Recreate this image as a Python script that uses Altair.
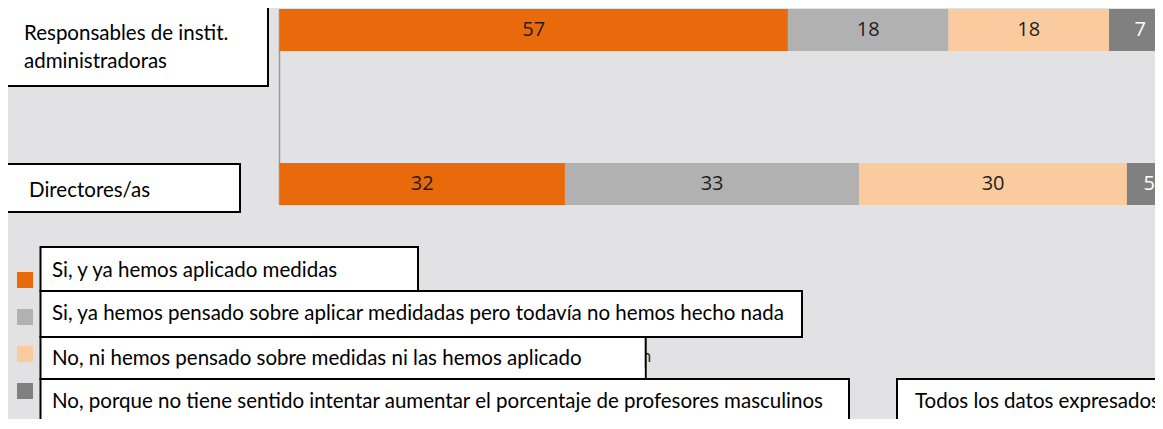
import altair as alt
import pandas as pd

# ---- data -------------------------------------------------------------
groups = ["Responsables de instit. administradoras", "Directores/as"]
responses = [
    "Si, y ya hemos aplicado medidas",
    "Si, ya hemos pensado sobre aplicar medidadas pero todavía no hemos hecho nada",
    "No, ni hemos pensado sobre medidas ni las hemos aplicado",
    "No, porque no tiene sentido intentar aumentar el porcentaje de profesores masculinos",
]
values_responsables = [57, 18, 18, 7]
values_directores = [32, 33, 30, 5]
colors = ["#e86a0a", "#b1b1b1", "#fbcba0", "#808080"]
note_lines = ["Todos los datos expresados en %", "de encuestados"]

rows = []
for g, vals in zip(groups, [values_responsables, values_directores]):
    for i, (r, v) in enumerate(zip(responses, vals)):
        rows.append({"group": g, "response": r, "order": i, "value": v})
df = pd.DataFrame(rows)

# ---- layout helpers (page coordinates -> chart coordinates) -------------
OFF = 8
def px(v):
    return v - OFF

W, H = 1147, 411
BG = "#e2e2e4"
BOX_FONT = "Lato"
BOX_SIZE = 20.5

x_scale = alt.Scale(domain=[0, 100], range=[px(279.5), px(1171.5)])
y_scale = alt.Scale(domain=groups, range=[px(9), px(205)], paddingInner=0.727, paddingOuter=0)

dummy = pd.DataFrame({"d": [0]})

base = alt.Chart(df).transform_stack(
    stack="value", as_=["v0", "v1"], groupby=["group"],
    sort=[alt.SortField("order", order="ascending")],
).transform_calculate(mid="(datum.v0 + datum.v1) / 2")

rule = alt.Chart(dummy).mark_rule(color="#9a9a9a", strokeWidth=1.5).encode(
    x=alt.X(datum=0, scale=x_scale, axis=None),
    y=alt.value(px(9)), y2=alt.value(px(205)),
)

bars = base.mark_bar(strokeWidth=0).encode(
    x=alt.X("v0:Q", scale=x_scale, axis=None),
    x2="v1:Q",
    y=alt.Y("group:N", scale=y_scale, axis=None, sort=groups),
    color=alt.Color(
        "response:N",
        scale=alt.Scale(domain=responses, range=colors),
        legend=alt.Legend(
            orient="none", legendX=px(17), legendY=px(272), direction="vertical",
            symbolType="square", symbolSize=256, symbolStrokeWidth=0, symbolOpacity=1,
            rowPadding=21, padding=0, labelExpr="''", title=None, symbolOffset=0,
            labelOffset=0,
        ),
    ),
)

labels = base.mark_text(font="Open Sans", fontSize=20, baseline="middle").encode(
    x=alt.X("mid:Q", scale=x_scale, axis=None),
    y=alt.Y("group:N", scale=y_scale, axis=None, sort=groups),
    text="value:Q",
    color=alt.condition("datum.order == 3", alt.value("white"), alt.value("#1e1e1e")),
)


def box(x1, y1, x2, y2, stroke=True):
    kw = dict(fill="white", stroke="black", strokeWidth=2) if stroke else dict(fill="white", strokeWidth=0)
    return alt.Chart(dummy).mark_rect(**kw).encode(
        x=alt.value(px(x1)), x2=alt.value(px(x2)),
        y=alt.value(px(y1)), y2=alt.value(px(y2)),
    )


def txt(s, x, y, color="black", font=BOX_FONT, size=BOX_SIZE):
    return alt.Chart(dummy).mark_text(
        text=s, align="left", baseline="alphabetic", font=font, fontSize=size, color=color
    ).encode(x=alt.value(px(x)), y=alt.value(px(y)))


layers = [rule, bars, labels]
# fragment of the original underlying legend text
layers.append(txt("n", 641, 362, color="#222222", font="Open Sans", size=17))
# group labels
layers += [box(3, 7, 268, 86), txt("Responsables de instit.", 24, 40), txt("administradoras", 24, 68)]
layers += [box(7, 164, 240, 212), txt(groups[1], 29, 197)]
# legend label boxes
layers += [box(40.5, 247, 418, 291), txt(responses[0], 52, 277)]
layers += [box(40.5, 291, 802, 337), txt(responses[1], 52, 320)]
layers += [box(40.5, 337, 645.7, 379), txt(responses[2], 52, 365),
           box(42, 368.5, 644.5, 378, stroke=False)]
layers += [box(40.5, 379, 849, 470), txt(responses[3], 52, 408)]
# note box
layers += [box(897, 379, 1200, 470), txt(note_lines[0], 915, 408), txt(note_lines[1], 915, 437)]

chart = alt.layer(*layers).properties(
    width=W, height=H,
    autosize=alt.AutoSizeParams(type="none"),
    padding=0,
    background=BG,
).configure_view(stroke=None)

chart.save("out.html", embed_options={"renderer": "svg", "actions": False})
